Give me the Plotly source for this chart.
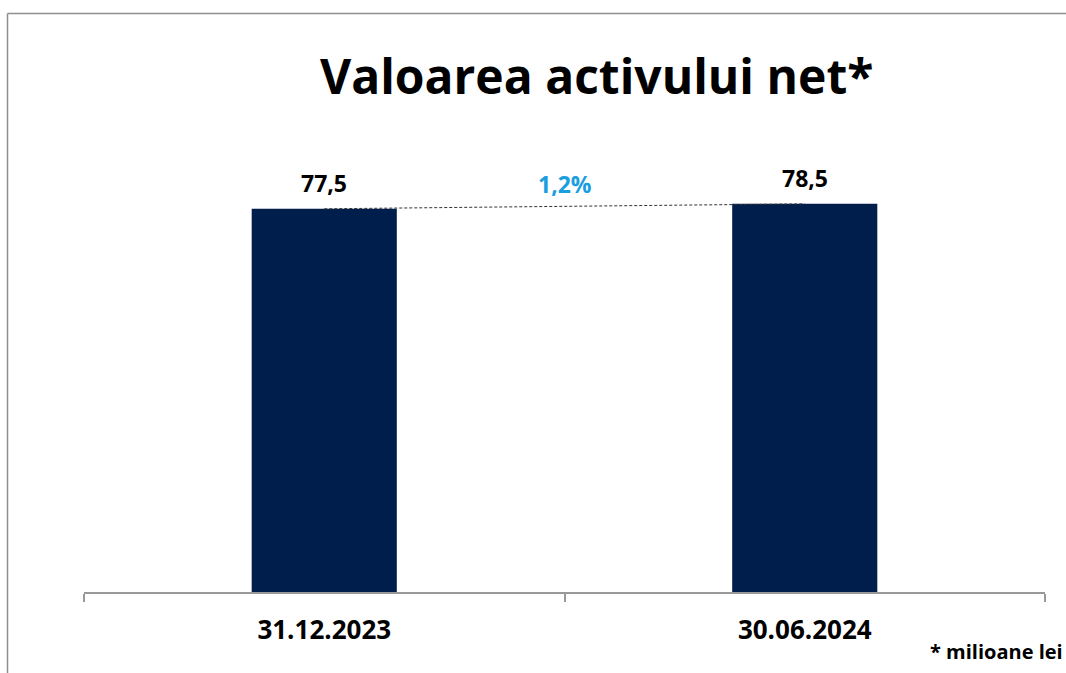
import plotly.graph_objects as go

categories = ["31.12.2023", "30.06.2024"]
values = [77.5, 78.5]
value_labels = ["77,5", "78,5"]
change_label = "1,2%"
title_text = "Valoarea activului net*"
note_text = "* milioane lei"

# body margin is removed in the page, so window pixels == figure pixels
OFF = 0
W, H = 1066, 673
plot_left, plot_right, plot_top, plot_bottom = 84, 1045, 147, 592
L = plot_left - OFF
T = plot_top - OFF
R = W - (plot_right - OFF)
B = H - (plot_bottom - OFF)
pw, ph = plot_right - plot_left, plot_bottom - plot_top

def px_x(p):
    return (p - plot_left) / pw

def px_y(p):
    return (plot_bottom - p) / ph

FONT = "Open Sans"
navy = "#001e4b"
blue = "#1a9ee0"

fig = go.Figure()
fig.add_trace(go.Bar(x=categories, y=values, marker_color=navy, width=0.302,
                     marker_line_width=0, hoverinfo="skip"))
fig.add_trace(go.Scatter(x=categories, y=values, mode="lines",
                         line=dict(color="#333333", width=1, dash="3px,2px"),
                         hoverinfo="skip"))

annotations = []
for c, v, t in zip(categories, values, value_labels):
    annotations.append(dict(x=c, y=v, xref="x", yref="y", text="<b>%s</b>" % t,
                            showarrow=False, yanchor="bottom", yshift=8,
                            font=dict(family=FONT, size=23, color="#000000")))
annotations.append(dict(x=0.5, y=(values[0] + values[1]) / 2, xref="x", yref="y",
                        text="<b>%s</b>" % change_label, showarrow=False,
                        yanchor="bottom", yshift=4,
                        font=dict(family=FONT, size=23, color=blue)))
annotations.append(dict(x=px_x(596), y=px_y(75), xref="paper", yref="paper",
                        text="<b>%s</b>" % title_text, showarrow=False,
                        xanchor="center", yanchor="middle",
                        font=dict(family=FONT, size=48, color="#000000")))
annotations.append(dict(x=px_x(928), y=px_y(651), xref="paper", yref="paper",
                        text="<b>%s</b>" % note_text, showarrow=False,
                        xanchor="left", yanchor="middle",
                        font=dict(family=FONT, size=20, color="#000000")))

shapes = [dict(type="line", xref="paper", yref="paper",
               x0=px_x(7.5), x1=px_x(7.5), y0=px_y(13.5), y1=px_y(700),
               line=dict(color="#8f8f8f", width=1.5)),
          dict(type="line", xref="paper", yref="paper",
               x0=px_x(7.5), x1=px_x(1100), y0=px_y(13.5), y1=px_y(13.5),
               line=dict(color="#8f8f8f", width=1.5))]

fig.update_layout(
    width=W, height=H,
    margin=dict(l=L, r=R, t=T, b=B, pad=0),
    paper_bgcolor="white", plot_bgcolor="white",
    showlegend=False,
    annotations=annotations,
    shapes=shapes,
    xaxis=dict(type="category", tickson="boundaries", ticks="outside", ticklen=8,
               tickcolor="#999999", tickwidth=1.5, showline=True,
               linecolor="#999999", linewidth=1.5, showgrid=False,
               tickfont=dict(family=FONT, size=26, color="#000000"),
               tickprefix="<b>", ticksuffix="</b>", range=[-0.5, 1.5],
               ticklabelstandoff=14, fixedrange=True),
    yaxis=dict(range=[0, 90], visible=False, showgrid=False, fixedrange=True),
)

fig.write_html("out.html", config={"displayModeBar": False},
               post_script="document.body.style.margin='0px';document.body.style.overflow='hidden';")
